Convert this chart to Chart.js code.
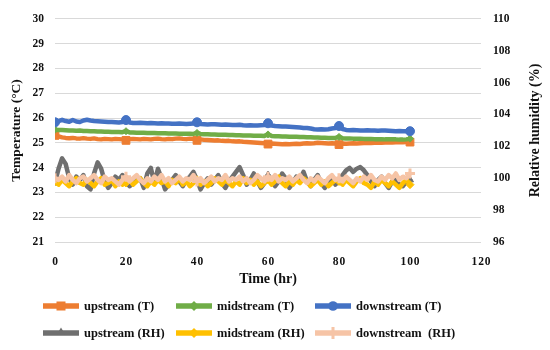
<!DOCTYPE html>
<html>
<head>
<meta charset="utf-8">
<script src="https://cdn.jsdelivr.net/npm/chart.js@4.4.1/dist/chart.umd.min.js"></script>
<style>
  body { margin: 0; background: #fff; }
  #wrap { position: relative; width: 550px; height: 350px; }
  #legend { position: absolute; left: 0; top: 0; width: 550px; height: 350px; pointer-events: none;
            font: bold 12.5px 'Liberation Serif', 'Times New Roman', serif; color: #111; }
  .item { position: absolute; display: flex; align-items: center; height: 20px; white-space: pre; }
  .item svg { margin-right: 5px; }
</style>
</head>
<body>
<div id="wrap">
  <canvas id="chart" width="550" height="350"></canvas>
  <div id="legend"></div>
</div>
<script>
// time axis (hours)
const hours = [0,1,2,3,4,5,6,7,8,9,10,11,12,13,14,15,16,17,18,19,20,21,22,23,24,25,26,27,28,29,30,
  31,32,33,34,35,36,37,38,39,40,41,42,43,44,45,46,47,48,49,50,51,52,53,54,55,56,57,58,59,60,
  61,62,63,64,65,66,67,68,69,70,71,72,73,74,75,76,77,78,79,80,81,82,83,84,85,86,87,88,89,90,
  91,92,93,94,95,96,97,98,99,100];

// temperature (C)
const upstreamT = [25.3,25.26,25.22,25.2,25.19,25.2,25.18,25.17,25.19,25.17,25.16,25.18,25.15,25.14,25.16,25.15,25.14,25.16,25.15,25.14,
  25.1,25.15,25.16,25.15,25.14,25.16,25.15,25.14,25.16,25.17,25.15,25.14,25.16,25.15,25.17,25.18,25.16,25.15,25.17,25.16,
  25.1,25.14,25.12,25.11,25.1,25.09,25.1,25.08,25.07,25.08,25.06,25.05,25.06,25.04,25.03,25.02,25.01,25.0,24.99,24.98,
  24.95,24.97,24.96,24.95,24.94,24.95,24.94,24.95,24.96,24.95,24.97,24.98,24.97,24.98,25.0,24.99,24.98,24.97,24.98,24.97,
  24.93,24.97,24.96,24.97,24.98,24.97,24.98,24.99,25.0,24.99,25.0,25.01,25.0,25.01,25.02,25.01,25.02,25.03,25.02,25.03,25.03];
const midstreamT = [25.53,25.52,25.52,25.51,25.5,25.5,25.49,25.5,25.48,25.48,25.47,25.47,25.46,25.46,25.45,25.45,25.44,25.44,25.44,25.43,
  25.47,25.42,25.42,25.41,25.41,25.41,25.4,25.4,25.4,25.39,25.39,25.39,25.38,25.38,25.38,25.37,25.37,25.37,25.37,25.36,
  25.4,25.36,25.35,25.35,25.34,25.34,25.33,25.33,25.33,25.32,25.32,25.31,25.31,25.3,25.3,25.3,25.29,25.29,25.29,25.28,
  25.34,25.28,25.27,25.27,25.26,25.26,25.25,25.25,25.25,25.24,25.24,25.23,25.23,25.22,25.22,25.21,25.21,25.2,25.2,25.2,
  25.24,25.19,25.18,25.18,25.17,25.17,25.17,25.16,25.16,25.16,25.15,25.15,25.15,25.14,25.14,25.14,25.14,25.13,25.13,25.14,25.17];
const downstreamT = [25.83,25.88,25.93,25.88,25.85,25.92,25.86,25.84,25.9,25.93,25.9,25.88,25.87,25.86,25.85,25.84,25.84,25.83,25.82,25.84,
  25.92,25.82,25.8,25.8,25.81,25.8,25.79,25.8,25.79,25.78,25.79,25.78,25.78,25.77,25.77,25.78,25.77,25.76,25.77,25.78,
  25.83,25.76,25.75,25.74,25.75,25.75,25.74,25.73,25.74,25.73,25.72,25.72,25.73,25.71,25.7,25.71,25.7,25.7,25.71,25.72,
  25.79,25.7,25.68,25.67,25.66,25.66,25.65,25.64,25.63,25.62,25.6,25.6,25.58,25.55,25.54,25.55,25.54,25.55,25.58,25.6,
  25.68,25.56,25.52,25.51,25.52,25.51,25.5,25.5,25.51,25.5,25.5,25.49,25.5,25.5,25.49,25.48,25.47,25.48,25.47,25.47,25.47];

// relative humidity (%)
const upstreamRH = [99.7,100.6,101.25,100.9,100.0,99.6,100.1,99.9,100.2,99.5,99.3,100.3,101.0,100.6,99.8,99.4,99.7,100.1,99.9,100.2,
  99.8,99.5,99.7,99.9,100.0,99.4,100.3,100.65,99.7,100.6,100.0,99.3,99.6,99.9,100.2,99.8,99.5,99.9,100.1,100.4,
  99.9,99.3,99.7,100.0,99.6,99.9,100.2,99.7,99.4,99.8,100.1,100.4,100.7,100.2,99.6,99.9,100.3,99.8,99.4,99.7,
  100.2,99.9,99.5,99.8,100.3,100.0,99.4,99.7,100.1,99.9,100.4,99.8,99.5,99.9,100.2,99.7,99.4,99.8,100.0,99.6,
  99.9,100.2,100.5,100.65,100.4,100.6,100.7,100.5,100.2,99.8,99.5,99.9,100.1,99.7,99.4,99.8,99.9,99.6,99.5,99.8,99.9];
const midstreamRH = [99.8,99.6,99.9,99.7,99.5,99.8,100.0,99.7,99.6,99.9,99.7,99.5,99.8,100.0,99.6,99.7,99.9,99.5,99.8,99.6,
  99.7,99.9,99.6,99.8,100.0,99.7,99.5,99.8,99.6,99.9,99.7,99.8,99.5,99.9,99.7,100.0,99.6,99.8,99.5,99.7,
  99.9,99.6,99.8,99.5,99.7,100.0,99.8,99.6,99.9,99.7,99.5,99.8,99.6,100.0,99.7,99.9,99.6,99.8,99.5,99.7,
  99.9,99.6,99.8,100.1,99.7,99.5,99.8,99.6,99.9,99.7,100.0,99.8,99.5,99.7,99.9,99.6,99.8,99.5,99.7,99.9,
  99.8,99.6,99.9,99.7,99.5,99.8,100.0,99.7,99.6,99.4,99.8,99.6,99.9,99.7,99.5,99.8,99.6,99.4,99.7,99.9,99.6];
const downstreamRH = [100.0,99.9,100.1,99.8,100.2,99.9,99.7,100.0,100.1,99.8,100.0,100.2,99.9,99.7,100.1,99.9,100.0,99.8,99.6,99.9,
  100.1,99.8,100.0,100.2,99.9,99.7,100.0,99.8,100.1,99.9,100.2,99.8,100.0,99.7,99.9,100.1,99.8,100.0,99.9,100.2,
  99.8,100.0,99.7,99.9,100.1,99.8,100.0,99.9,100.2,99.8,100.0,99.9,100.1,99.8,100.0,99.7,99.9,100.2,100.0,99.8,
  100.1,99.9,100.2,99.8,100.0,99.9,100.1,99.8,100.0,100.2,99.9,99.7,100.0,99.8,100.1,99.9,99.7,100.0,100.2,99.9,
  100.0,99.8,100.1,99.9,99.7,100.0,99.8,100.1,99.9,100.2,99.9,99.8,100.1,99.9,100.2,100.0,100.3,99.9,100.1,100.0,100.3];

const seriesNames = ['upstream (T)', 'midstream (T)', 'downstream (T)', 'upstream (RH)', 'midstream (RH)', 'downstream  (RH)'];
const xTicks = [0, 20, 40, 60, 80, 100, 120];

const FONT = "'Liberation Serif', 'Times New Roman', serif";
const toPoints = arr => hours.map((h, i) => ({ x: h, y: arr[i] }));

function makeSet(i, values, axis, color, shape, radius) {
  return {
    label: seriesNames[i],
    data: toPoints(values),
    yAxisID: axis,
    borderColor: color,
    backgroundColor: color,
    borderWidth: 4.5,
    borderJoinStyle: 'round',
    borderCapStyle: 'round',
    tension: 0,
    pointStyle: shape,
    pointRadius: c => (c.raw && c.raw.x % 20 === 0 ? radius : 0),
    pointBorderWidth: shape === 'cross' ? 3 : 1,
    pointBorderColor: color,
    pointBackgroundColor: color,
    order: 5 - i,
    _shape: shape
  };
}

const datasets = [
  makeSet(0, upstreamT, 'y', '#ED7D31', 'rect', 5.5),
  makeSet(1, midstreamT, 'y', '#70AD47', 'rectRot', 3.5),
  makeSet(2, downstreamT, 'y', '#4472C4', 'circle', 4.5),
  makeSet(3, upstreamRH, 'y2', '#6F6F6F', 'triangle', 4),
  makeSet(4, midstreamRH, 'y2', '#FFC000', 'rectRot', 4),
  makeSet(5, downstreamRH, 'y2', '#F6C4A6', 'cross', 5)
];

const rightTitle = {
  id: 'rightTitle',
  afterDraw(chart) {
    const { ctx, chartArea } = chart;
    const s = chart.scales.y2;
    ctx.save();
    ctx.font = 'bold 14px ' + FONT;
    ctx.fillStyle = '#111';
    ctx.textAlign = 'center';
    ctx.textBaseline = 'middle';
    ctx.translate(s.right - 15, (chartArea.top + chartArea.bottom) / 2);
    ctx.rotate(-Math.PI / 2);
    ctx.fillText('Relative humidity (%)', 0, 0);
    ctx.restore();
  }
};

const tickFont = { family: FONT, size: 11.5, weight: 'bold' };
const titleFont = { family: FONT, size: 14, weight: 'bold' };

new Chart(document.getElementById('chart'), {
  type: 'line',
  data: { datasets },
  options: {
    responsive: false,
    animation: false,
    devicePixelRatio: 1,
    layout: { padding: { left: 0, right: 0, top: 14, bottom: 58 } },
    plugins: { legend: { display: false }, tooltip: { enabled: false } },
    scales: {
      x: {
        type: 'linear', min: 0, max: 120,
        afterBuildTicks: s => { s.ticks = xTicks.map(v => ({ value: v })); },
        afterFit: s => { s.height = 50; },
        grid: { display: false },
        border: { display: false },
        ticks: { font: tickFont, color: '#111', padding: 5, maxRotation: 0,
                 callback: v => String(v).split('').join('\u200A') },
        title: { display: true, text: 'Time (hr)', font: titleFont, color: '#111', padding: { top: 0, bottom: 4 } }
      },
      y: {
        position: 'left', min: 21, max: 30,
        afterFit: s => { s.width = 55; },
        grid: { color: '#D9D9D9', lineWidth: 1, drawTicks: false },
        border: { display: false },
        ticks: { stepSize: 1, font: tickFont, color: '#111', padding: 11 },
        title: { display: true, text: 'Temperature (°C)', font: { family: FONT, size: 13.5, weight: 'bold' }, color: '#111', padding: { top: 8, bottom: 0 } }
      },
      y2: {
        position: 'right', min: 96, max: 110,
        afterFit: s => { s.width = 69; },
        grid: { display: false, drawTicks: false },
        border: { display: false },
        ticks: { stepSize: 2, font: tickFont, color: '#111', padding: 12 }
      }
    }
  },
  plugins: [rightTitle]
});

// legend in Excel style: line sample with marker, two rows of three
function sample(color, shape) {
  let m = '';
  if (shape === 'rect') m = `<rect x="13.5" y="5.5" width="9" height="9" fill="${color}"/>`;
  else if (shape === 'circle') m = `<circle cx="18" cy="10" r="4.8" fill="${color}"/>`;
  else if (shape === 'rectRot') m = `<polygon points="18,5 23,10 18,15 13,10" fill="${color}"/>`;
  else if (shape === 'triangle') m = `<polygon points="18,4.5 22.5,12 13.5,12" fill="${color}"/>`;
  else if (shape === 'cross') m = `<path d="M18 4 V16 M12 10 H24" stroke="${color}" stroke-width="3"/>`;
  return `<svg width="36" height="20"><line x1="0" y1="10" x2="36" y2="10" stroke="${color}" stroke-width="5.5"/>${m}</svg>`;
}
const legendCols = [43, 176, 315];
const legendRows = [296, 323];
const legend = document.getElementById('legend');
datasets.forEach((d, i) => {
  const el = document.createElement('div');
  el.className = 'item';
  el.style.left = legendCols[i % 3] + 'px';
  el.style.top = legendRows[Math.floor(i / 3)] + 'px';
  el.innerHTML = sample(d.borderColor, d._shape) + '<span></span>';
  el.querySelector('span').textContent = d.label;
  legend.appendChild(el);
});
</script>
</body>
</html>
